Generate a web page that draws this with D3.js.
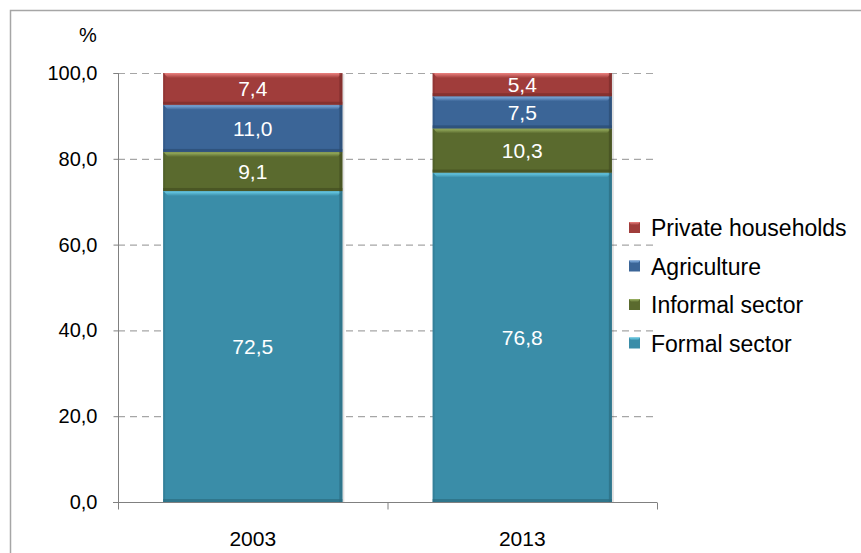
<!DOCTYPE html>
<html>
<head>
<meta charset="utf-8">
<script src="https://cdn.jsdelivr.net/npm/d3@7"></script>
<style>
  body { margin: 0; background: #fff; }
  svg text { font-family: Arial, "Liberation Sans", sans-serif; }
</style>
</head>
<body>
<svg id="chart" width="861" height="553"></svg>
<script>
// data
var years = ["2003", "2013"];
var seriesNames = ["Formal sector", "Informal sector", "Agriculture", "Private households"];
var formalSector = [72.5, 76.8];
var informalSector = [9.1, 10.3];
var agriculture = [11.0, 7.5];
var privateHouseholds = [7.4, 5.4];
var yTicks = [0, 20, 40, 60, 80, 100];

var seriesColors = {
  "Formal sector": { base: "#3a8da8", light: "#6fd4ee", dark: "#2b6c80" },
  "Informal sector": { base: "#5a6a2e", light: "#a0b866", dark: "#434f21" },
  "Agriculture": { base: "#3b6597", light: "#88b4e6", dark: "#2b4b72" },
  "Private households": { base: "#a03d3b", light: "#ec8280", dark: "#7a2c2b" }
};

function buildRows() {
  var cols = [formalSector, informalSector, agriculture, privateHouseholds];
  return years.map(function (yr, i) {
    var row = { year: yr };
    for (var s = 0; s < seriesNames.length; s++) row[seriesNames[s]] = cols[s][i];
    return row;
  });
}

var svg = d3.select("#chart");
var fmt = function (v) { return d3.format(".1f")(v).replace(".", ","); };

// gradients for the bevelled top edge
var defs = svg.append("defs");
seriesNames.forEach(function (name, i) {
  var c = seriesColors[name];
  var grad = defs.append("linearGradient").attr("id", "top" + i)
    .attr("x1", 0).attr("y1", 0).attr("x2", 0).attr("y2", 1);
  grad.append("stop").attr("offset", "0%").attr("stop-color", c.light);
  grad.append("stop").attr("offset", "100%").attr("stop-color", c.base);
  c.grad = "url(#top" + i + ")";
});

// outer frame (runs off right and bottom)
svg.append("rect")
  .attr("x", 10.5).attr("y", 10.5)
  .attr("width", 900).attr("height", 600)
  .attr("fill", "none").attr("stroke", "#a6a6a6").attr("stroke-width", 1.5);

var plotLeft = 118, plotRight = 657, plotTop = 73, plotBottom = 502;

var x = d3.scaleBand().domain(years).range([plotLeft, plotRight]).paddingInner(0.335).paddingOuter(0.1675);
var y = d3.scaleLinear().domain([0, 100]).range([plotBottom, plotTop]);

// gridlines
svg.append("g").selectAll("line")
  .data(yTicks.filter(function (t) { return t > 0; }))
  .join("line")
  .attr("x1", plotLeft).attr("x2", plotRight)
  .attr("y1", function (d) { return y(d) + 0.5; })
  .attr("y2", function (d) { return y(d) + 0.5; })
  .attr("stroke", "#a6a6a6").attr("stroke-width", 1.2)
  .attr("stroke-dasharray", "7,5");

// stacked bars
var stack = d3.stack().keys(seriesNames)(buildRows());
var barsG = svg.append("g");

stack.forEach(function (layer) {
  var c = seriesColors[layer.key];
  var g = barsG.append("g");
  layer.forEach(function (d) {
    var x0 = x(d.data.year), w = x.bandwidth();
    var y0 = y(d[1]), h = y(d[0]) - y(d[1]);
    // shadow on the right
    g.append("rect").attr("x", x0 + 2).attr("y", y0 + 1).attr("width", w).attr("height", h)
      .attr("fill", "#000").attr("opacity", 0.12);
    g.append("rect").attr("x", x0).attr("y", y0).attr("width", w).attr("height", h)
      .attr("fill", c.base);
    // bevel: light top, dark bottom & sides
    g.append("path")
      .attr("d", "M" + x0 + "," + y0 + "H" + (x0 + w) + "L" + (x0 + w - 5) + "," + (y0 + 5) +
        "H" + (x0 + 5) + "Z")
      .attr("fill", c.grad);
    g.append("rect").attr("x", x0).attr("y", y0 + h - 3).attr("width", w).attr("height", 3)
      .attr("fill", c.dark).attr("opacity", 0.7);
    g.append("rect").attr("x", x0 + w - 3).attr("y", y0).attr("width", 3).attr("height", h)
      .attr("fill", c.dark).attr("opacity", 0.7);
    g.append("rect").attr("x", x0).attr("y", y0).attr("width", 2).attr("height", h)
      .attr("fill", c.dark).attr("opacity", 0.35);
    g.append("text")
      .attr("x", x0 + w / 2).attr("y", y0 + h / 2)
      .attr("dy", "0.36em")
      .attr("text-anchor", "middle")
      .attr("fill", "#fff").attr("font-size", 21)
      .text(fmt(d[1] - d[0]));
  });
});

// y axis
var yAxis = svg.append("g").attr("transform", "translate(" + (plotLeft + 0.5) + ",0)")
  .call(d3.axisLeft(y).tickValues(yTicks).tickSize(5).tickFormat(fmt));
yAxis.select(".domain").attr("stroke", "#808080").attr("d", "M-5," + (plotTop + 0.5) + "H0V" + (plotBottom + 7));
yAxis.selectAll(".tick line").attr("stroke", "#808080");
yAxis.selectAll(".tick text").attr("font-size", 20).attr("fill", "#000").attr("x", -21)
  .attr("font-family", "Arial, 'Liberation Sans', sans-serif");

// x axis
var xAxis = svg.append("g").attr("transform", "translate(0," + (plotBottom + 0.5) + ")");
xAxis.append("line").attr("x1", plotLeft - 5).attr("x2", plotRight).attr("stroke", "#808080");
xAxis.selectAll("line.sep")
  .data([plotLeft, plotLeft + (plotRight - plotLeft) / 2, plotRight])
  .join("line").attr("class", "sep")
  .attr("x1", function (d) { return d + 0.5; }).attr("x2", function (d) { return d + 0.5; })
  .attr("y1", 0).attr("y2", 7).attr("stroke", "#808080");
xAxis.selectAll("text")
  .data(years).join("text")
  .attr("x", function (d) { return x(d) + x.bandwidth() / 2; })
  .attr("y", 43)
  .attr("text-anchor", "middle")
  .attr("font-size", 21).attr("fill", "#000")
  .text(function (d) { return d; });

// unit label
svg.append("text").attr("x", 88).attr("y", 42).attr("text-anchor", "middle")
  .attr("font-size", 20).attr("fill", "#000").text("%");

// legend
var legendOrder = seriesNames.slice().reverse();
var legend = svg.append("g").attr("transform", "translate(629,0)");
legendOrder.forEach(function (name, i) {
  var ly = 228 + i * 38.5;
  var c = seriesColors[name];
  legend.append("rect").attr("x", 0).attr("y", ly - 6).attr("width", 11).attr("height", 11)
    .attr("fill", c.base);
  legend.append("path")
    .attr("d", "M0," + (ly - 6) + "H11L9," + (ly - 3) + "H2Z")
    .attr("fill", c.grad);
  legend.append("text").attr("x", 22).attr("y", ly).attr("dy", "0.36em")
    .attr("font-size", 23).attr("fill", "#000").text(name);
});
</script>
</body>
</html>
